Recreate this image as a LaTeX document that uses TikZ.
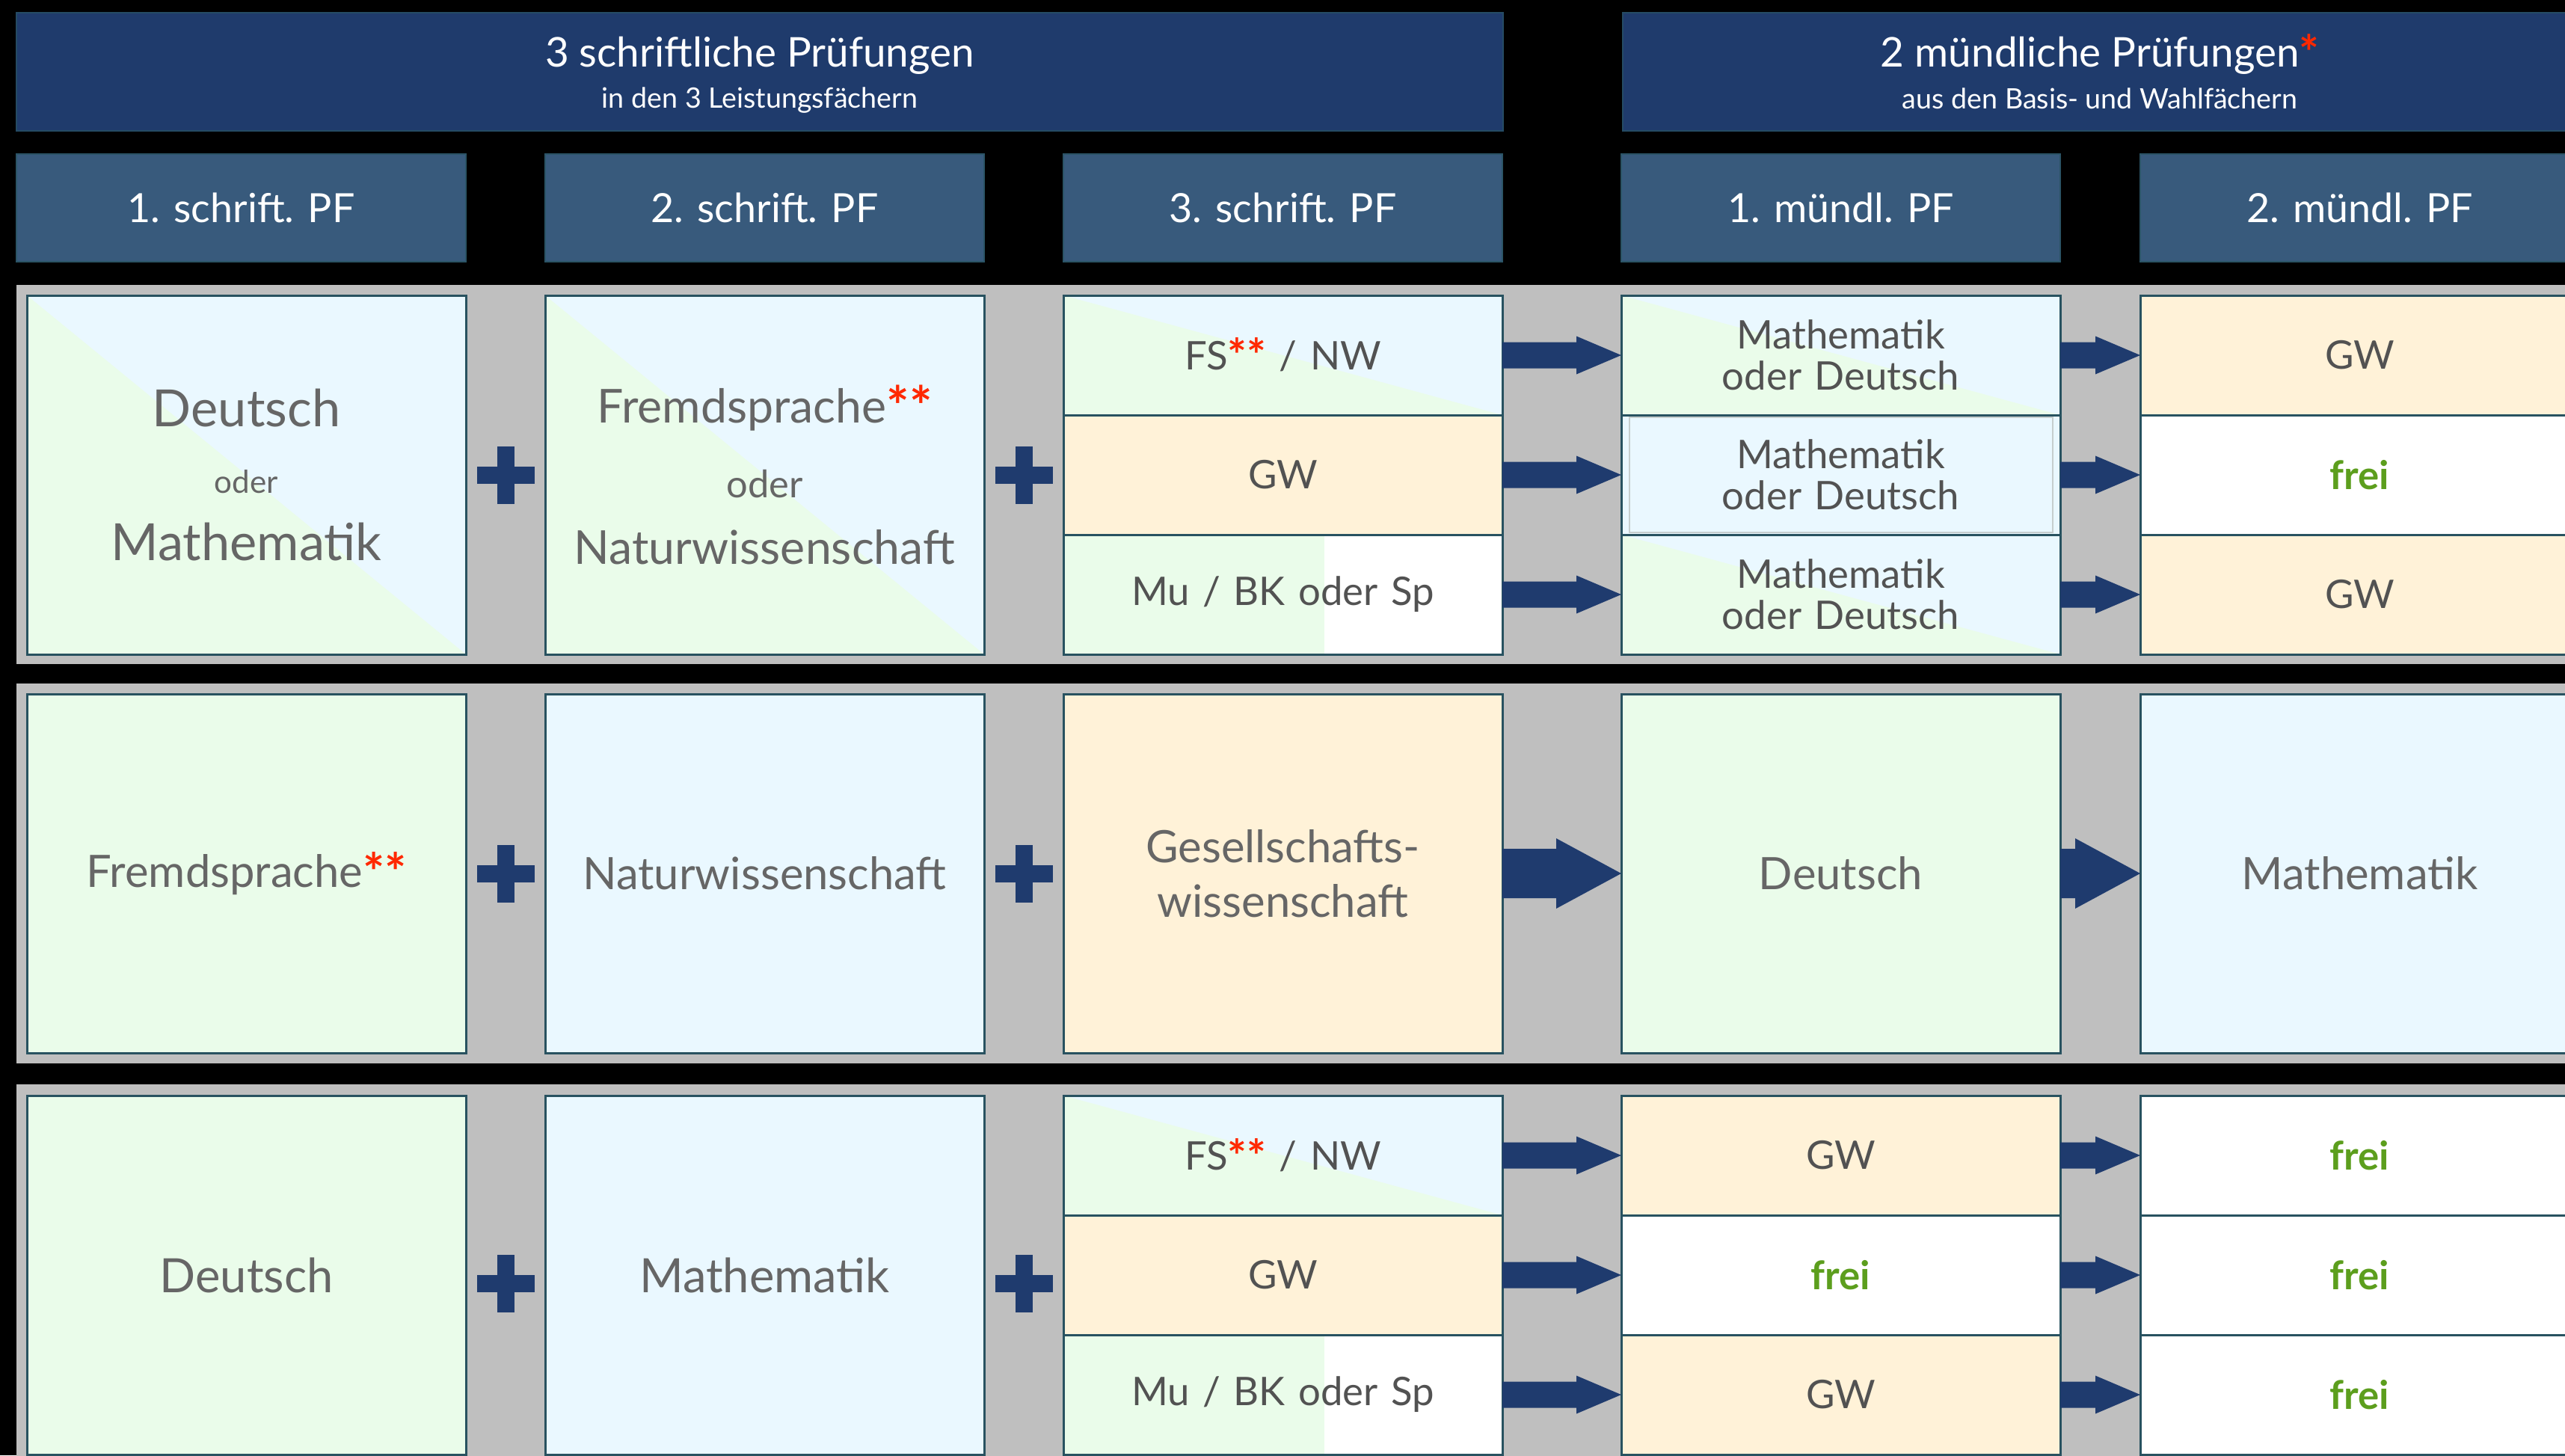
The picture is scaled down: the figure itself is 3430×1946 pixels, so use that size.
\documentclass[tikz,border=0pt]{standalone}
\usepackage{fontspec}
\setmainfont{Lato}
\usetikzlibrary{positioning,calc}

\definecolor{banner}{RGB}{31,59,108}
\definecolor{headblue}{RGB}{56,90,124}
\definecolor{edge}{RGB}{40,82,96}
\definecolor{band}{RGB}{191,191,191}
\definecolor{lgreen}{RGB}{234,252,234}
\definecolor{lblue}{RGB}{234,248,255}
\definecolor{cream}{RGB}{255,242,216}
\definecolor{navy}{RGB}{31,59,110}
\definecolor{txtgray}{RGB}{102,102,102}
\definecolor{txtdark}{RGB}{82,82,82}
\definecolor{freigreen}{RGB}{92,158,29}
\definecolor{starred}{RGB}{255,40,0}
\definecolor{framegray}{RGB}{198,206,206}

\newcommand{\stars}[1]{\raisebox{-0.07em}{\scalebox{1.15}{\textcolor{starred}{\bfseries#1}}}}
\newcommand{\freitxt}{{\bfseries\color{freigreen}frei}}

\tikzset{
  plussign/.pic={\fill[navy] (-11.5,-38.5) rectangle (11.5,38.5);
                 \fill[navy] (-38.5,-11.5) rectangle (38.5,11.5);},
  arrowpath/.style n args={3}{to path={let \p1=(\tikztostart), \p2=(\tikztotarget) in
    (\x1,\y1+#1/2) -- (\x2-#2,\y1+#1/2) -- (\x2-#2,\y1+#3/2) -- (\x2,\y1)
    -- (\x2-#2,\y1-#3/2) -- (\x2-#2,\y1-#1/2) -- (\x1,\y1-#1/2) -- cycle}},
  smallarrow/.style={arrowpath={3.5mm}{6mm}{5.1mm}},
  bigarrow/.style={arrowpath={6.6mm}{8.7mm}{9.4mm}}
}

\begin{document}
\begin{tikzpicture}[x=0.1mm,y=-0.1mm,
  box/.style={draw=edge, line width=0.3mm, outer sep=0pt, inner sep=0pt,
    minimum width=58.7mm, text width=56mm, align=center, text=txtgray},
  bigbox/.style={box, minimum height=48mm, font=\fontsize{17}{20.8}\selectfont},
  subbox/.style={box, minimum height=16mm, text=txtdark, font=\fontsize{15}{15.6}\selectfont},
  halfbox/.style={fill=lblue, path picture={\fill[lgreen] (path picture bounding box.north west)
    -- (path picture bounding box.south east) -- (path picture bounding box.south west) -- cycle;}},
  mubox/.style={fill=white, path picture={\fill[lgreen] (path picture bounding box.north west)
    rectangle ([xshift=-23.8mm]path picture bounding box.south east);}},
  framed/.style={path picture={\draw[framegray, line width=0.2mm]
    ([shift={(1.1mm,-0.3mm)}]path picture bounding box.north west)
    rectangle ([shift={(-1mm,0.3mm)}]path picture bounding box.south east);}},
  headbox/.style={fill=headblue, draw=edge!80!headblue, line width=0.2mm, outer sep=0pt,
    minimum width=58.7mm, minimum height=14.4mm, text=white, font=\fontsize{15.3}{18}\selectfont},
  bannerbox/.style={fill=banner, draw=edge!70!banner, line width=0.2mm, outer sep=0pt,
    minimum height=15.8mm, text=white, align=center, font=\fontsize{15.6}{15.9}\selectfont}
]
\useasboundingbox (0,0) rectangle (3430,1946);
\clip (0,0) rectangle (3430,1946);
\fill[black] (0,0) rectangle (3430,1946);

% grey bands behind the three rows
\fill[band] (22,381) rectangle (3460,888);
\fill[band] (22,914) rectangle (3460,1422);
\fill[band] (22,1450) rectangle (3460,1980);

% banners
\node[bannerbox, minimum width=198.8mm, anchor=north west] (b1) at (22,17)
  {\vphantom{Ü}3 schriftliche Prüfungen\\{\fontsize{10.7}{15.9}\selectfont in den 3 Leistungsfächern}};
\node[bannerbox, minimum width=127.6mm, anchor=north west] (b2) at (2170,17)
  {2 mündliche Prüfungen\stars{*}\\{\fontsize{10.7}{15.9}\selectfont aus den Basis- und Wahlfächern}};

% row 1
\node[bigbox, halfbox, anchor=north west, font=\fontsize{19.5}{25.5}\selectfont] (r1c1) at (36,395)
  {Deutsch\\{\fontsize{12}{25.5}\selectfont oder}\\Mathematik};
\node[bigbox, halfbox, right=10.6mm of r1c1, font=\fontsize{17.8}{25.3}\selectfont] (r1c2)
  {Fremdsprache\stars{**}\\[3.2pt]{\fontsize{14.4}{25.3}\selectfont oder}\\Naturwissenschaft};
\node[subbox, halfbox, right=10.6mm of r1c2.north east, anchor=north west] (r1c3a) {FS\stars{**} / NW};
\node[subbox, fill=cream, below=0mm of r1c3a] (r1c3b) {GW};
\node[subbox, mubox, below=0mm of r1c3b] (r1c3c) {Mu / BK oder Sp};
\node[subbox, halfbox, right=15.9mm of r1c3a] (r1c4a) {Mathematik\\oder Deutsch};
\node[subbox, halfbox, framed, below=0mm of r1c4a] (r1c4b) {Mathematik\\oder Deutsch};
\node[subbox, halfbox, below=0mm of r1c4b] (r1c4c) {Mathematik\\oder Deutsch};
\node[subbox, fill=cream, right=10.7mm of r1c4a] (r1c5a) {GW};
\node[subbox, fill=white, below=0mm of r1c5a] (r1c5b) {\freitxt};
\node[subbox, fill=cream, below=0mm of r1c5b] (r1c5c) {GW};

% row 2
\node[bigbox, fill=lgreen, anchor=north west] (r2c1) at (36,928) {Fremdsprache\stars{**}};
\node[bigbox, fill=lblue, right=10.6mm of r2c1] (r2c2) {Naturwissenschaft};
\node[bigbox, fill=cream, right=10.6mm of r2c2] (r2c3) {Gesellschafts-\\wissenschaft};
\node[bigbox, fill=lgreen, right=15.9mm of r2c3] (r2c4) {Deutsch};
\node[bigbox, fill=lblue, right=10.7mm of r2c4] (r2c5) {Mathematik};

% row 3
\node[bigbox, fill=lgreen, anchor=north west, font=\fontsize{18}{21}\selectfont] (r3c1) at (36,1465) {Deutsch};
\node[bigbox, fill=lblue, right=10.6mm of r3c1, font=\fontsize{18}{21}\selectfont] (r3c2) {Mathematik};
\node[subbox, halfbox, right=10.6mm of r3c2.north east, anchor=north west] (r3c3a) {FS\stars{**} / NW};
\node[subbox, fill=cream, below=0mm of r3c3a] (r3c3b) {GW};
\node[subbox, mubox, below=0mm of r3c3b] (r3c3c) {Mu / BK oder Sp};
\node[subbox, fill=cream, right=15.9mm of r3c3a] (r3c4a) {GW};
\node[subbox, fill=white, below=0mm of r3c4a] (r3c4b) {\freitxt};
\node[subbox, fill=cream, below=0mm of r3c4b] (r3c4c) {GW};
\node[subbox, fill=white, right=10.7mm of r3c4a] (r3c5a) {\freitxt};
\node[subbox, fill=white, below=0mm of r3c5a] (r3c5b) {\freitxt};
\node[subbox, fill=white, below=0mm of r3c5b] (r3c5c) {\freitxt};

% column heads
\node[headbox, minimum width=60.1mm, anchor=north west] (h1) at (22,206) {1. schrift. PF};
\node[headbox, above=4.5mm of r1c2] (h2) {2. schrift. PF};
\node[headbox, above=4.5mm of r1c3a] (h3) {3. schrift. PF};
\node[headbox, above=4.5mm of r1c4a] (h4) {1. mündl. PF};
\node[headbox, above=4.5mm of r1c5a] (h5) {2. mündl. PF};

% plus signs
\pic at ($(r1c1.east)!0.5!(r1c2.west)$) {plussign};
\pic at ($(r1c2.east)!0.5!(r1c3b.west)$) {plussign};
\pic at ($(r2c1.east)!0.5!(r2c2.west)$) {plussign};
\pic at ($(r2c2.east)!0.5!(r2c3.west)$) {plussign};
\pic at ($(r3c1.east)!0.5!(r3c2.west)+(0,11)$) {plussign};
\pic at ($(r3c2.east)!0.5!(r3c3b.west)+(0,11)$) {plussign};

% arrows
\foreach \r in {1,3}{
  \foreach \s in {a,b,c}{
    \fill[navy] (r\r c3\s.east) to[smallarrow] (r\r c4\s.west);
    \fill[navy] (r\r c4\s.east) to[smallarrow] (r\r c5\s.west);
  }
}
\fill[navy] (r2c3.east) to[bigarrow] (r2c4.west);
\fill[navy] (r2c4.east) to[bigarrow] (r2c5.west);
\end{tikzpicture}
\end{document}
